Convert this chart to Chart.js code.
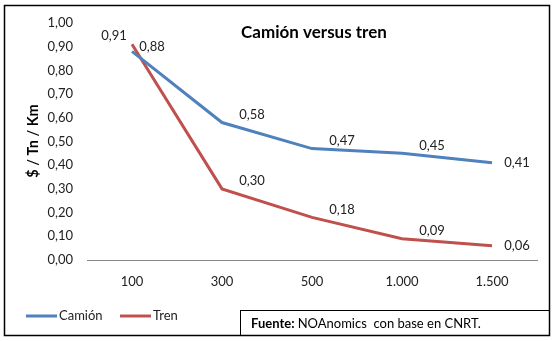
<!DOCTYPE html>
<html>
<head>
<meta charset="utf-8">
<script src="https://cdn.jsdelivr.net/npm/chart.js@4"></script>
<style>
  html, body { margin: 0; padding: 0; background: #fff; }
  #wrap { width: 560px; height: 341px; position: relative; }
</style>
</head>
<body>
<div id="wrap"><canvas id="id-canvas" width="560" height="341"></canvas></div>
<script>
// distancias (km) y costo en $ / Tn / Km
var distancias = ['100', '300', '500', '1.000', '1.500'];
var camion = [0.88, 0.58, 0.47, 0.45, 0.41];
var tren = [0.91, 0.30, 0.18, 0.09, 0.06];
var yTicks = [0, 0.1, 0.2, 0.3, 0.4, 0.5, 0.6, 0.7, 0.8, 0.9, 1.0];

var AZUL = '#4f81bd';
var ROJO = '#c0504d';
var FUENTE = 'Lato, "Open Sans", sans-serif';

function coma(v) { return v.toFixed(2).replace('.', ','); }

// donde va cada etiqueta respecto de su punto
function posEtiqueta(ds, i, n) {
  if (i === n - 1) return { dx: 25, dy: 0 };
  if (i === 0) return ds === 0 ? { dx: 20, dy: -5 } : { dx: -18, dy: -9 };
  return { dx: 30, dy: -8 };
}

var extras = {
  id: 'extras',
  afterDatasetsDraw: function(chart) {
    var ctx = chart.ctx;
    ctx.save();
    ctx.font = '13px ' + FUENTE;
    ctx.fillStyle = '#222';
    ctx.textAlign = 'center';
    ctx.textBaseline = 'middle';
    chart.data.datasets.forEach(function(ds, d) {
      var meta = chart.getDatasetMeta(d);
      meta.data.forEach(function(pt, i) {
        var p = posEtiqueta(d, i, meta.data.length);
        ctx.fillText(coma(ds.data[i]), pt.x + p.dx, pt.y + p.dy);
      });
    });
    ctx.restore();
  },
  afterDraw: function(chart) {
    var ctx = chart.ctx;
    ctx.save();
    // marco exterior
    ctx.strokeStyle = '#000';
    ctx.lineWidth = 1.5;
    ctx.strokeRect(4.5, 5.5, 545, 330);

    // titulo
    ctx.fillStyle = '#000';
    ctx.font = 'bold 17px ' + FUENTE;
    ctx.textAlign = 'center';
    ctx.textBaseline = 'middle';
    ctx.fillText('Camión versus tren', 314, 33);

    // titulo eje y
    ctx.save();
    ctx.translate(33, 141);
    ctx.rotate(-Math.PI / 2);
    ctx.font = 'bold 14.5px ' + FUENTE;
    ctx.fillText('$ / Tn / Km', 0, 0);
    ctx.restore();

    // leyenda
    ctx.font = '13px ' + FUENTE;
    ctx.textAlign = 'left';
    ctx.lineWidth = 3;
    chart.data.datasets.forEach(function(ds, d) {
      var x0 = d === 0 ? 26 : 120;
      ctx.strokeStyle = ds.borderColor;
      ctx.beginPath();
      ctx.moveTo(x0, 316);
      ctx.lineTo(x0 + 31, 316);
      ctx.stroke();
      ctx.fillStyle = '#222';
      ctx.fillText(ds.label, x0 + 33, 316);
    });

    // recuadro de fuente
    ctx.strokeStyle = '#000';
    ctx.lineWidth = 1;
    ctx.strokeRect(240.5, 310.5, 309, 25);
    ctx.fillStyle = '#000';
    ctx.font = 'bold 13px ' + FUENTE;
    ctx.fillText('Fuente:', 251, 324);
    var w = ctx.measureText('Fuente: ').width;
    ctx.font = '13px ' + FUENTE;
    ctx.fillText('NOAnomics  con base en CNRT.', 251 + w, 324);
    ctx.restore();
  }
};

(function() {
  var ctx = document.getElementById('id-canvas').getContext('2d');
  window.grafico = new Chart(ctx, {
    type: 'line',
    data: {
      labels: distancias,
      datasets: [
        { label: 'Camión', data: camion, borderColor: AZUL, backgroundColor: AZUL,
          borderWidth: 3, pointRadius: 0, tension: 0, fill: false },
        { label: 'Tren', data: tren, borderColor: ROJO, backgroundColor: ROJO,
          borderWidth: 3, pointRadius: 0, tension: 0, fill: false }
      ]
    },
    options: {
      responsive: false,
      animation: false,
      layout: { padding: { left: 0, top: 23, right: 23, bottom: 0 } },
      plugins: { legend: { display: false }, tooltip: { enabled: false } },
      scales: {
        x: {
          offset: true,
          grid: { display: false, drawTicks: false },
          border: { display: true, color: '#868686', width: 1 },
          ticks: { padding: 14, color: '#222', font: { family: FUENTE, size: 13 } },
          afterFit: function(s) { s.height = 81; }
        },
        y: {
          min: 0, max: 1,
          afterBuildTicks: function(s) { s.ticks = yTicks.map(function(v) { return { value: v }; }); },
          grid: { display: false, drawTicks: false },
          border: { display: false },
          ticks: { padding: 14, color: '#222', font: { family: FUENTE, size: 13 },
                   callback: function(v) { return coma(v); } },
          afterFit: function(s) { s.width = 87; }
        }
      }
    },
    plugins: [extras]
  });
})();
</script>
</body>
</html>
